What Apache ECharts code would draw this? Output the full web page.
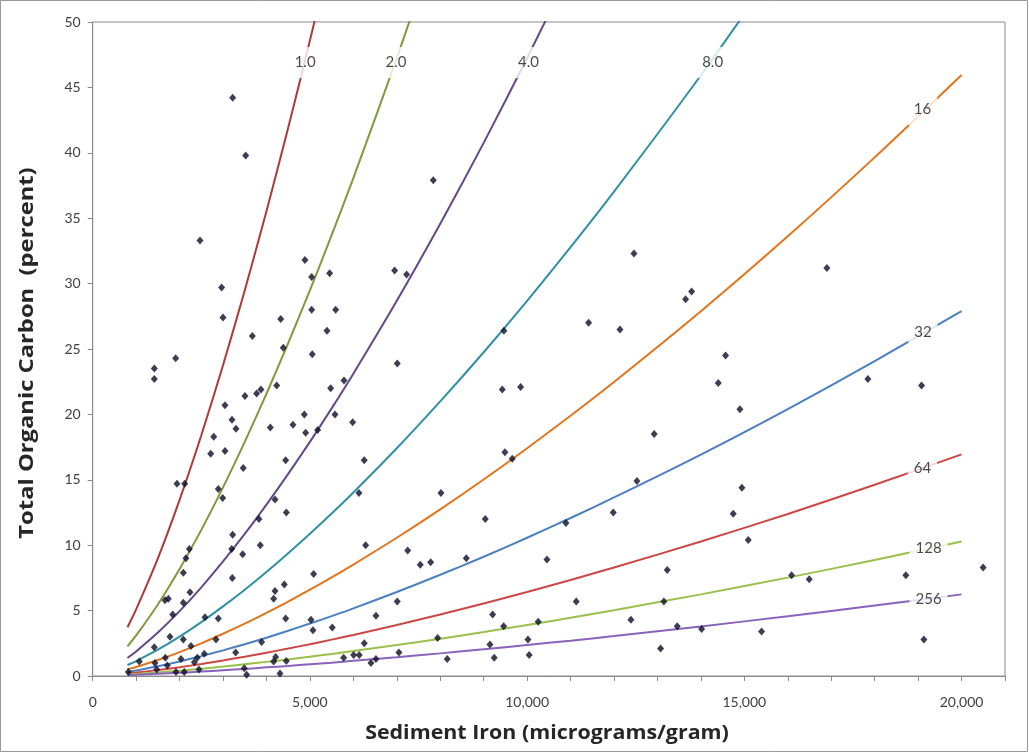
<!DOCTYPE html>
<html>
<head>
<meta charset="utf-8">
<script src="https://cdn.jsdelivr.net/npm/echarts@6/dist/echarts.min.js"></script>
<style>
  html, body { margin: 0; padding: 0; background: #fff; }
  #chart { width: 1029px; height: 753px; }
</style>
</head>
<body>
<div id="chart"></div>
<script>
// Sediment iron grid (micrograms/gram) shared by the reference curves
const feGrid = [800, 1000, 1500, 2000, 2500, 3000, 3500, 4000, 4500, 5000, 5500,
                6000, 7000, 8000, 9000, 10000, 11000, 12000, 14000, 16000, 18000, 20000];

// Reference curves: total organic carbon (%) along feGrid, one array per ratio
const curveNames = ['1.0', '2.0', '4.0', '8.0', '16', '32', '64', '128', '256'];
const curve1   = [3.73, 5.10, 9.00, 13.47, 18.41, 23.76, 29.48, 35.54, 41.92, 48.58, 55.51];
const curve2   = [2.27, 3.10, 5.47, 8.18, 11.17, 14.42, 17.90, 21.58, 25.45, 29.49, 33.70,
                  38.06, 47.24, 56.94];
const curve4   = [1.38, 1.88, 3.32, 4.96, 6.78, 8.76, 10.86, 13.10, 15.45, 17.90, 20.46,
                  23.11, 28.68, 34.57, 40.76, 47.25, 53.99];
const curve8   = [0.84, 1.14, 2.01, 3.01, 4.12, 5.32, 6.60, 7.95, 9.38, 10.87, 12.42,
                  14.03, 17.41, 20.99, 24.75, 28.68, 32.78, 37.03, 45.93, 55.38];
const curve16  = [0.51, 0.69, 1.22, 1.83, 2.50, 3.23, 4.00, 4.83, 5.69, 6.60, 7.54,
                  8.52, 10.57, 12.74, 15.02, 17.41, 19.90, 22.48, 27.89, 33.62, 39.65, 45.95];
const curve32  = [0.31, 0.42, 0.74, 1.11, 1.52, 1.96, 2.43, 2.93, 3.46, 4.01, 4.58,
                  5.17, 6.42, 7.74, 9.12, 10.57, 12.08, 13.65, 16.93, 20.41, 24.07, 27.90];
const curve64  = [0.19, 0.26, 0.45, 0.67, 0.92, 1.19, 1.48, 1.78, 2.10, 2.43, 2.78,
                  3.14, 3.90, 4.70, 5.54, 6.42, 7.34, 8.29, 10.28, 12.39, 14.62, 16.94];
const curve128 = [0.11, 0.16, 0.27, 0.41, 0.56, 0.72, 0.90, 1.08, 1.27, 1.48, 1.69,
                  1.91, 2.37, 2.85, 3.36, 3.90, 4.45, 5.03, 6.24, 7.52, 8.87, 10.28];
const curve256 = [0.07, 0.09, 0.17, 0.25, 0.34, 0.44, 0.54, 0.66, 0.77, 0.90, 1.02,
                  1.16, 1.44, 1.73, 2.04, 2.37, 2.70, 3.05, 3.79, 4.57, 5.39, 6.24];
const curveColors = ['#ad3a38', '#7f9a3c', '#64498a', '#2f8fa6', '#e2741c',
                     '#4a7fc0', '#cc4744', '#98c04a', '#8a62bb'];

// Where each curve's ratio label sits (iron, carbon)
const labelIron   = [4890, 6980, 10030, 14270, 19100, 19110, 19100, 19240, 19240];
const labelCarbon = [46.9, 46.9, 46.9, 46.9, 43.3, 26.3, 15.9, 9.8, 5.9];

// Sediment samples
const sampleIron = [
  3222, 3521, 2470, 7840, 4886, 5040, 5454, 6950, 2968, 2999,
  5040, 5593, 4327, 3674, 4387, 5392, 5055, 1910, 1418, 1418,
  7010, 3045, 3206, 3298, 3505, 3774, 3873, 4235, 4871, 5478,
  5784, 5577, 5984, 4088, 4610, 4902, 5178, 2785, 2716, 3045,
  4442, 6250, 7226, 12458, 13786, 13648, 11415, 12136, 9466, 9427,
  9850, 12925, 9489, 9657, 16900, 14568, 14399, 14898, 17843, 19079,
  3466, 1940, 2117, 2891, 2992, 3222, 3199, 3452, 3214, 2224,
  2147, 2086, 2239, 2086, 1664, 1741, 1841, 2585, 2891, 1779,
  2086, 1418, 2262, 2838, 3291, 2569, 2408, 1672, 2032, 1073,
  1434, 1718, 2339, 2447, 1473, 1917, 2108, 820, 3489, 3544,
  4196, 4456, 3827, 6129, 3858, 6283, 5086, 4410, 4196, 4166,
  4442, 5024, 5070, 5514, 6520, 7010, 3889, 6251, 5776, 6006,
  6136, 6405, 6520, 7049, 4212, 4166, 4456, 4311, 8016, 9036,
  7250, 7540, 7779, 8599, 10893, 11982, 12527, 10456, 13225, 11131,
  13148, 9206, 9459, 10256, 12389, 13455, 14016, 7940, 9144, 10018,
  8161, 9243, 10048, 13072, 14944, 14744, 15090, 16087, 16493, 18718,
  20497, 15397, 19132
];
const sampleCarbon = [
  44.2, 39.8, 33.3, 37.9, 31.8, 30.5, 30.8, 31.0, 29.7, 27.4,
  28.0, 28.0, 27.3, 26.0, 25.1, 26.4, 24.6, 24.3, 23.5, 22.7,
  23.9, 20.7, 19.6, 18.9, 21.4, 21.6, 21.9, 22.2, 20.0, 22.0,
  22.6, 20.0, 19.4, 19.0, 19.2, 18.6, 18.8, 18.3, 17.0, 17.2,
  16.5, 16.5, 30.7, 32.3, 29.4, 28.8, 27.0, 26.5, 26.4, 21.9,
  22.1, 18.5, 17.1, 16.6, 31.2, 24.5, 22.4, 20.4, 22.7, 22.2,
  15.9, 14.7, 14.7, 14.3, 13.6, 10.8, 9.7, 9.3, 7.5, 9.7,
  9.0, 7.9, 6.4, 5.6, 5.8, 5.9, 4.7, 4.5, 4.4, 3.0,
  2.8, 2.2, 2.3, 2.8, 1.8, 1.7, 1.4, 1.4, 1.3, 1.1,
  1.0, 0.8, 1.05, 0.5, 0.5, 0.3, 0.3, 0.3, 0.6, 0.1,
  13.5, 12.5, 12.0, 14.0, 10.0, 10.0, 7.8, 7.0, 6.5, 5.9,
  4.4, 4.3, 3.5, 3.7, 4.6, 5.7, 2.6, 2.5, 1.4, 1.6,
  1.6, 1.0, 1.3, 1.8, 1.45, 1.1, 1.15, 0.2, 14.0, 12.0,
  9.6, 8.5, 8.7, 9.0, 11.7, 12.5, 14.9, 8.9, 8.1, 5.7,
  5.7, 4.7, 3.8, 4.15, 4.3, 3.8, 3.6, 2.9, 2.4, 2.8,
  1.3, 1.4, 1.6, 2.1, 14.4, 12.4, 10.4, 7.7, 7.4, 7.7,
  8.3, 3.4, 2.8
];

// Axis settings
const ironMax = 21000, ironTick = 1000, ironLabelStep = 5000;
const carbonMax = 50, carbonTick = 5;

const FONT = 'Lato, "Open Sans", sans-serif';
const TITLE_FONT = '"Open Sans", Lato, sans-serif';
const chart = echarts.init(document.getElementById('chart'), null, { renderer: 'canvas' });

const curveData = [curve1, curve2, curve4, curve8, curve16, curve32, curve64, curve128, curve256];
const curveSeries = curveData.map((vals, i) => ({
  type: 'line',
  name: curveNames[i],
  data: vals.map((v, j) => [feGrid[j], v]),
  showSymbol: false,
  smooth: 0.25,
  clip: true,
  silent: true,
  z: 2,
  lineStyle: { color: curveColors[i], width: 2 }
}));

// Ratio labels on white boxes that break the curves
const labelSeries = {
  type: 'scatter',
  silent: true,
  z: 3,
  symbol: 'circle',
  symbolSize: 1,
  itemStyle: { color: 'rgba(255,255,255,0)' },
  data: labelIron.map((x, i) => ({ value: [x, labelCarbon[i]], name: curveNames[i] })),
  label: {
    show: true,
    position: 'inside',
    formatter: '{b}',
    fontFamily: FONT,
    fontSize: 15,
    color: '#1a1a1a',
    backgroundColor: '#ffffff',
    padding: [8, 6, 8, 6]
  }
};

const sampleSeries = {
  type: 'scatter',
  z: 4,
  symbol: 'diamond',
  symbolSize: [7, 8],
  itemStyle: { color: '#0d0d26' },
  data: sampleIron.map((x, i) => [x, sampleCarbon[i]])
};

chart.setOption({
  animation: false,
  backgroundColor: '#ffffff',
  grid: { left: 92.7, right: 24, top: 22, bottom: 77, show: true,
          borderColor: '#8a8a8a', borderWidth: 1 },
  xAxis: {
    type: 'value', min: 0, max: ironMax, interval: ironTick,
    axisLine: { show: true, lineStyle: { color: '#8a8a8a', width: 1 } },
    axisTick: { show: true, length: 5, lineStyle: { color: '#8a8a8a' } },
    splitLine: { show: false },
    axisLabel: {
      margin: 19, fontFamily: FONT, fontSize: 14, color: '#404040',
      formatter: v => (v % ironLabelStep === 0 ? v.toLocaleString('en-US') : '')
    }
  },
  yAxis: {
    type: 'value', min: 0, max: carbonMax, interval: carbonTick,
    axisLine: { show: true, lineStyle: { color: '#8a8a8a', width: 1 } },
    axisTick: { show: true, length: 5, lineStyle: { color: '#8a8a8a' } },
    splitLine: { show: false },
    axisLabel: { margin: 12, fontFamily: FONT, fontSize: 14, color: '#404040' }
  },
  graphic: [
    { type: 'rect', shape: { x: 0.5, y: 0.5, width: 1027, height: 751 },
      style: { fill: 'none', stroke: '#9a9a9a', lineWidth: 1 }, silent: true },
    { type: 'text', x: 547, y: 733, scaleX: 1.07,
      style: { text: 'Sediment Iron (micrograms/gram)', fontFamily: TITLE_FONT, fontWeight: 'bold',
               fontSize: 20, fill: '#262626', align: 'center', verticalAlign: 'middle' } },
    { type: 'text', x: 28, y: 353, rotation: Math.PI / 2, scaleX: 1.25,
      style: { text: 'Total Organic Carbon  (percent)', fontFamily: TITLE_FONT, fontWeight: 'bold',
               fontSize: 19, fill: '#262626', align: 'center', verticalAlign: 'middle' } }
  ],
  series: [...curveSeries, labelSeries, sampleSeries]
});
</script>
</body>
</html>
